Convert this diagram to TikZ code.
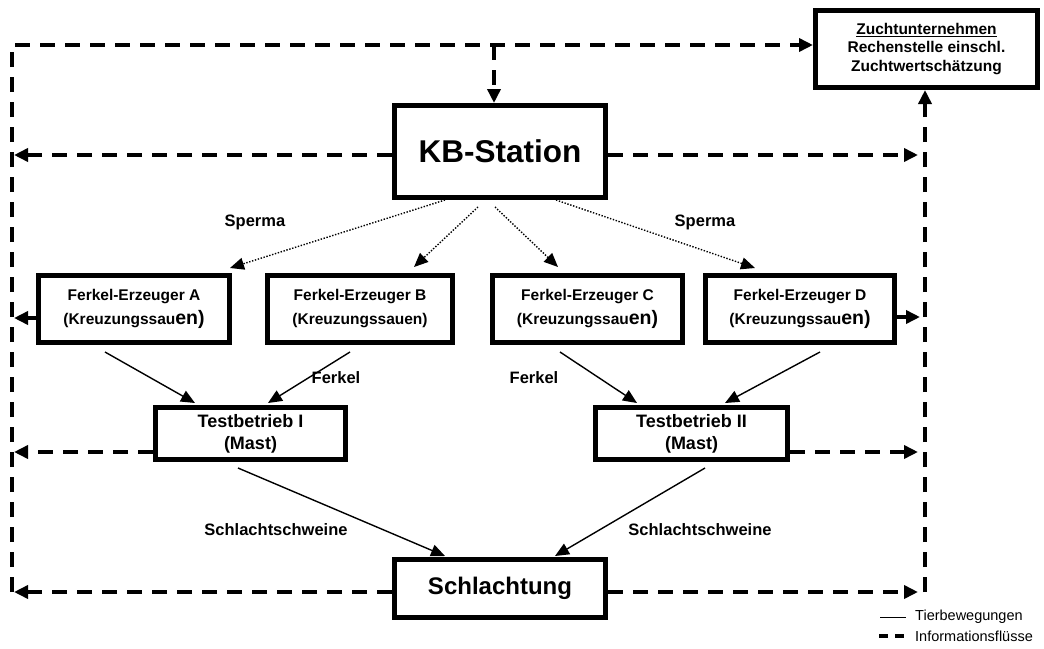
\documentclass[tikz,border=0pt]{standalone}
\usepackage{fontspec}
\setmainfont{Liberation Sans}
\usetikzlibrary{arrows.meta}
\begin{document}
\begin{tikzpicture}[x=1pt,y=-1pt,
  box/.style={draw=black,line width=5pt,fill=white,inner sep=0pt,align=center,font=\bfseries},
  info/.style={line width=3.5pt,dash pattern=on 15pt off 10pt},
  infotip/.style={info,-{Triangle[length=14pt,width=13pt]}},
  animal/.style={line width=1.4pt,-{Triangle[length=14pt,width=12pt]}},
  semen/.style={line width=1.4pt,dash pattern=on 1.4pt off 1.6pt,-{Triangle[length=14pt,width=12pt]}},
  lbl/.style={font=\fontsize{16.5}{18}\selectfont\bfseries,inner sep=0pt},
  fe/.style={box,minimum height=67pt,font=\fontsize{15.5}{24}\selectfont\bfseries},
  tb/.style={box,minimum height=52pt,font=\fontsize{18}{22}\selectfont\bfseries}]
\useasboundingbox (0,0) rectangle (1044,648);

% boxes
\node[box,minimum width=222pt,minimum height=77pt,font=\fontsize{15.5}{18.5}\selectfont\bfseries]
  (zt) at (926.5,49) {\underline{Zuchtunternehmen}\\Rechenstelle einschl.\\Zuchtwertschätzung};
\node[box,minimum width=211pt,minimum height=92pt,font=\fontsize{31.5}{34}\selectfont\bfseries]
  (kb) at (500,151.5) {KB-Station};
\node[fe,minimum width=191pt] (fa) at (134,309)
  {Ferkel-Erzeuger A\\(Kreuzungssau{\fontsize{19.5}{24}\selectfont en)}};
\node[fe,minimum width=185pt] (fb) at (360,309)
  {Ferkel-Erzeuger B\\(Kreuzungssauen)};
\node[fe,minimum width=190pt] (fc) at (587.5,309)
  {Ferkel-Erzeuger C\\(Kreuzungssau{\fontsize{19.5}{24}\selectfont en)}};
\node[fe,minimum width=189pt] (fd) at (800,309)
  {Ferkel-Erzeuger D\\(Kreuzungssau{\fontsize{19.5}{24}\selectfont en)}};
\node[tb,minimum width=190pt] (t1) at (250.5,433.5) {Testbetrieb I\\(Mast)};
\node[tb,minimum width=192pt] (t2) at (691.5,433.5) {Testbetrieb II\\(Mast)};
\node[box,minimum width=211pt,minimum height=58pt,font=\fontsize{24}{26}\selectfont\bfseries]
  (sl) at (500,588.5) {Schlachtung};

% information rails
\coordinate (railTL) at (12,45);
\coordinate (railBL) at (12,592);
\coordinate (railBR) at (925,592);
\coordinate (junc) at (494,45);
\draw[infotip] (railBL) -- (railTL) -- (zt.west |- railTL);
\draw[infotip] (junc) -- (junc |- kb.north);
\draw[infotip] (railBR) -- (railBR |- zt.south);

% information flows to the rails
\draw[infotip] (kb.west |- 0,155) -- (14,155);
\draw[infotip] (kb.east |- 0,155) -- (918,155);
\draw[infotip] (fa.west |- 0,318) -- (14,318);
\draw[infotip] (fd.east |- 0,317) -- (920,317);
\draw[infotip] (t1.west |- 0,452) -- (14,452);
\draw[infotip] (t2.east |- 0,452) -- (918,452);
\draw[infotip] (sl.west |- 0,592) -- (14,592);
\draw[infotip] (sl.east |- 0,592) -- (918,592);

% semen
\draw[semen] (kb.south -| 445,0) -- (230,268);
\draw[semen] (478,207) -- (414,267);
\draw[semen] (495,207) -- (558,267);
\draw[semen] (kb.south -| 556,0) -- (755,268);
\node[lbl] at (255,222) {Sperma};
\node[lbl] at (705,222) {Sperma};

% piglets
\draw[animal] (105,352) -- (195,403);
\draw[animal] (350,352) -- (268,403);
\draw[animal] (560,352) -- (637,403);
\draw[animal] (820,352) -- (725,403);
\node[lbl] at (336,378) {Ferkel};
\node[lbl] at (534,378) {Ferkel};

% slaughter pigs
\draw[animal] (238,468) -- (445,556);
\draw[animal] (705,468) -- (555,556);
\node[lbl] at (276,530) {Schlachtschweine};
\node[lbl] at (700,530) {Schlachtschweine};

% legend
\draw[line width=1pt] (880,617) -- (906,617);
\draw[line width=3.5pt,dash pattern=on 9pt off 7pt] (879,636) -- (906,636);
\node[anchor=west,inner sep=0pt,font=\fontsize{14.5}{16}\selectfont] (lg1) at (915,617) {Tierbewegungen};
\node[anchor=west,inner sep=0pt,font=\fontsize{14.5}{16}\selectfont] (lg2) at (915,636) {Informationsflüsse};
\end{tikzpicture}
\end{document}
